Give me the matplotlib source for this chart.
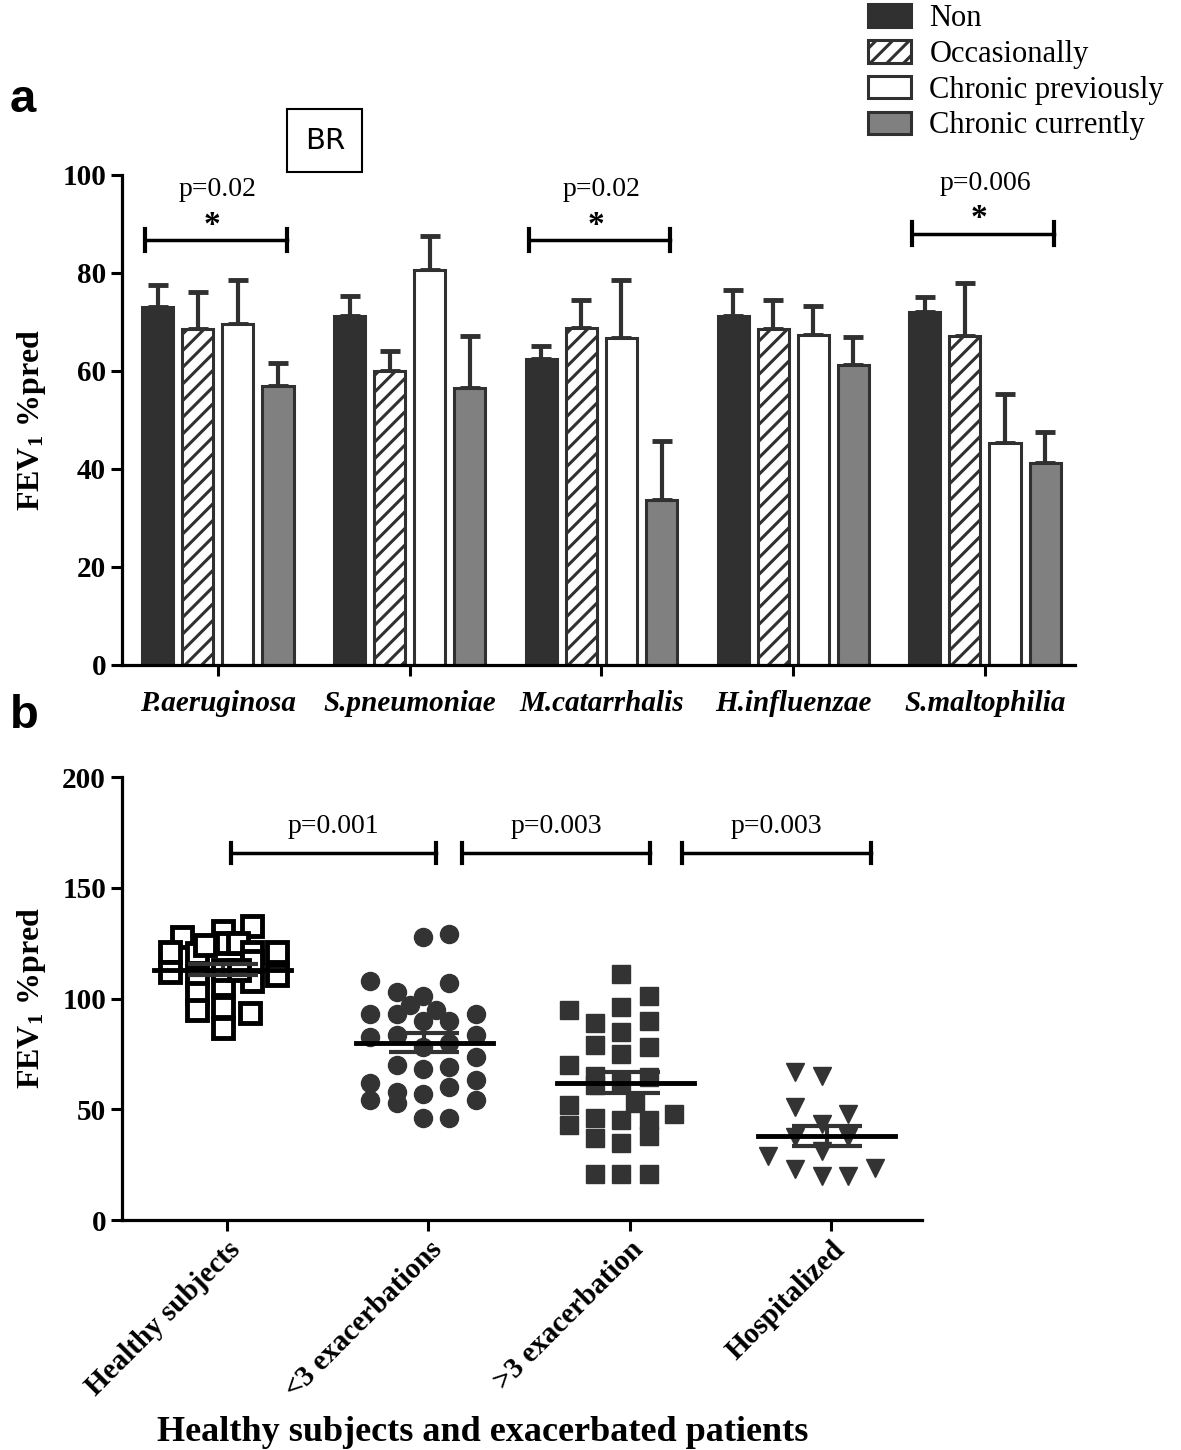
import numpy as np
import matplotlib
matplotlib.use("Agg")
import matplotlib.pyplot as plt
from matplotlib.patches import Patch

plt.rcParams['font.family'] = ['Liberation Serif', 'DejaVu Serif']
plt.rcParams['mathtext.fontset'] = 'custom'
plt.rcParams['mathtext.rm'] = 'Liberation Serif:bold'
plt.rcParams['mathtext.default'] = 'rm'
plt.rcParams['hatch.linewidth'] = 2.2
plt.rcParams['hatch.color'] = '#303030'

# ---- panel a data ----
bacteria = ['P.aeruginosa', 'S.pneumoniae', 'M.catarrhalis', 'H.influenzae', 'S.maltophilia']
series = ['Non', 'Occasionally', 'Chronic previously', 'Chronic currently']
non_mean = [73.1, 71.2, 62.4, 71.2, 72.0]
non_err = [4.4, 4.1, 2.7, 5.3, 3.0]
occ_mean = [68.5, 59.9, 68.8, 68.5, 67.2]
occ_err = [7.7, 4.2, 5.7, 6.0, 10.8]
prev_mean = [69.5, 80.6, 66.7, 67.3, 45.3]
prev_err = [9.1, 7.0, 11.9, 6.0, 10.0]
curr_mean = [56.9, 56.5, 33.6, 61.2, 41.3]
curr_err = [4.8, 10.7, 12.1, 5.8, 6.3]
pvals_a = ['p=0.02', '', 'p=0.02', '', 'p=0.006']

# ---- panel b data ----
groups = ['Healthy subjects', '<3 exacerbations', '>3 exacerbation', 'Hospitalized']
healthy_x = [-0.22, -0.02, 0.125, -0.28, -0.15, -0.11, 0.0, 0.055, 0.125, 0.25, -0.28, -0.15,
             0.125, 0.25, -0.15, -0.02, -0.15, -0.02, 0.115, -0.02, 0.125, -0.02, 0.06]
healthy_y = [128, 130.5, 132.7, 121, 120.5, 124, 125, 125, 121, 121, 112, 110,
             108, 110.6, 102.5, 106, 95, 96, 93.5, 86.7, 117, 113, 113]
less3_x = [-0.025, 0.105, -0.29, 0.105, -0.155, -0.025, -0.09, 0.04, -0.29, -0.155, 0.24, -0.025,
           0.105, -0.29, 0.24, -0.155, -0.025, 0.105, 0.24, -0.155, -0.025, 0.105, -0.29, 0.24,
           0.105, -0.155, -0.025, -0.29, -0.155, 0.24, -0.025, 0.105]
less3_y = [128, 129, 108, 107, 103, 101, 97, 95, 93, 93, 93, 90,
           90, 82.6, 83.5, 83.5, 78, 80, 73.6, 70, 68, 69, 62, 63,
           60, 58, 57, 54, 53, 54, 46, 46]
more3_x = [-0.04, 0.095, -0.30, -0.04, 0.095, -0.17, -0.04, -0.17, 0.095, -0.04, -0.30, -0.17,
           0.095, -0.04, -0.17, 0.025, -0.30, 0.22, -0.17, -0.04, 0.095, 0.095, -0.30, -0.17,
           -0.04, -0.17, -0.04, 0.095]
more3_y = [111, 101, 95, 96, 90, 89, 85, 79, 78, 75, 70, 65,
           64.6, 62, 61, 53, 52, 48, 46, 45, 45, 38, 43, 37,
           35, 21, 21, 21]
hosp_x = [-0.18, -0.045, -0.18, 0.085, -0.045, -0.18, 0.085, -0.31, -0.045, -0.18, -0.045, 0.085, 0.22]
hosp_y = [67, 65, 51, 48, 43.5, 37.5, 37.5, 29, 31, 23, 20, 20, 23.5]
group_means = [113, 80, 62, 38]
group_sems = [2.5, 4.3, 4.7, 4.5]
pairs_b = [(0.02, 1.04, 'p=0.001'), (1.17, 2.1, 'p=0.003'), (2.26, 3.2, 'p=0.003')]

dark = '#303030'
fig = plt.figure(figsize=(11.81, 14.5), dpi=100)

# ================= panel a =================
ax1 = fig.add_axes([0.1033, 0.5414, 0.807, 0.338])
x = np.arange(len(bacteria))
w = 0.162
step = 0.209
styles = [
    dict(color=dark, edgecolor=dark),
    dict(color='white', edgecolor=dark, hatch='//'),
    dict(color='white', edgecolor=dark),
    dict(color='#808080', edgecolor=dark),
]
means = [non_mean, occ_mean, prev_mean, curr_mean]
errs = [non_err, occ_err, prev_err, curr_err]
for i in range(4):
    xi = x + (i - 1.5) * step
    ax1.bar(xi, means[i], width=w, linewidth=2.2, label=series[i], zorder=2, **styles[i])
    ax1.errorbar(xi, means[i], yerr=[np.zeros(len(x)), errs[i]], fmt='none',
                 ecolor=dark, elinewidth=3, capsize=7, capthick=3.5, zorder=1)

for i, p in enumerate(pvals_a):
    if not p:
        continue
    yb = 88 if i == 4 else 86.7
    ax1.plot([i - 0.38, i + 0.36], [yb, yb], color='black', lw=2.5, clip_on=False)
    for xe in (i - 0.38, i + 0.36):
        ax1.plot([xe, xe], [yb - 2.3, yb + 2.3], color='black', lw=3, clip_on=False)
    ax1.text(i, yb + 10.3, p, ha='center', va='center', fontsize=20)
    ax1.text(i - 0.03, yb + 3.0, '*', ha='center', va='center', fontsize=24, fontweight='bold')

ax1.set_xlim(-0.5, 4.47)
ax1.set_ylim(0, 100)
ax1.set_yticks([0, 20, 40, 60, 80, 100])
ax1.set_xticks(x)
ax1.set_xticklabels(bacteria, fontsize=24, fontweight='bold', style='italic')
ax1.set_ylabel('FEV$_1$ %pred', fontsize=23, fontweight='bold', labelpad=10)
for sp in ['top', 'right']:
    ax1.spines[sp].set_visible(False)
for sp in ['left', 'bottom']:
    ax1.spines[sp].set_linewidth(2.3)
ax1.tick_params(width=2.2, length=8, labelsize=21)
ax1.tick_params(axis='x', pad=10)
for lab in ax1.get_yticklabels():
    lab.set_fontweight('bold')

handles = [Patch(facecolor=s['color'], edgecolor=dark, hatch=s.get('hatch'), linewidth=2.2) for s in styles]
fig.legend(handles, series, loc='upper left', bbox_to_anchor=(0.712, 1.016), frameon=False,
           fontsize=22, handlelength=1.4, handleheight=0.75, labelspacing=0.22, handletextpad=0.6)

fig.text(0.008, 0.931, 'a', fontsize=34, fontweight='bold', family='Liberation Sans', va='center')
fig.text(0.275, 0.903, 'BR', fontsize=21, family='DejaVu Sans', ha='center', va='center',
         bbox=dict(boxstyle='square,pad=0.6', facecolor='white', edgecolor='black', linewidth=1.5))

# ================= panel b =================
ax2 = fig.add_axes([0.1033, 0.1586, 0.677, 0.3055])
ax2.plot(0 + np.array(healthy_x), healthy_y, 's', ms=14, mfc='white', mec='black', mew=3.5, ls='none')
ax2.plot(1 + np.array(less3_x), less3_y, 'o', ms=13, color='#333333', ls='none')
ax2.plot(2 + np.array(more3_x), more3_y, 's', ms=12.5, color='#333333', ls='none')
ax2.plot(3 + np.array(hosp_x), hosp_y, 'v', ms=13, color='#333333', ls='none')

for g in range(len(groups)):
    c = g - 0.02
    ax2.plot([c - 0.34, c + 0.34], [group_means[g]] * 2, color='black', lw=3.5, zorder=5)
    ax2.errorbar(c, group_means[g], yerr=group_sems[g], fmt='none', ecolor='#333333',
                 elinewidth=3, capsize=25, capthick=3, zorder=4)

for x0, x1, p in pairs_b:
    yb = 165.7
    ax2.plot([x0, x1], [yb, yb], color='black', lw=2.5)
    for xe in (x0, x1):
        ax2.plot([xe, xe], [yb - 4.5, yb + 4.5], color='black', lw=3)
    ax2.text((x0 + x1) / 2, yb + 12, p, ha='center', va='center', fontsize=20)

ax2.set_xlim(-0.52, 3.45)
ax2.set_ylim(0, 200)
ax2.set_yticks([0, 50, 100, 150, 200])
ax2.set_xticks(range(len(groups)))
ax2.set_xticklabels(groups, rotation=45, ha='right', va='top', rotation_mode='anchor',
                    fontsize=25, fontweight='bold')
ax2.set_ylabel('FEV$_1$ %pred', fontsize=23, fontweight='bold', labelpad=10)
for sp in ['top', 'right']:
    ax2.spines[sp].set_visible(False)
for sp in ['left', 'bottom']:
    ax2.spines[sp].set_linewidth(2.3)
ax2.tick_params(width=2.2, length=8, labelsize=21)
for lab in ax2.get_yticklabels():
    lab.set_fontweight('bold')

fig.text(0.008, 0.506, 'b', fontsize=34, fontweight='bold', family='Liberation Sans', va='center')
fig.text(0.409, 0.012, 'Healthy subjects and exacerbated patients', ha='center', va='center',
         fontsize=26, fontweight='bold')

fig.savefig('out.png', dpi=100)
